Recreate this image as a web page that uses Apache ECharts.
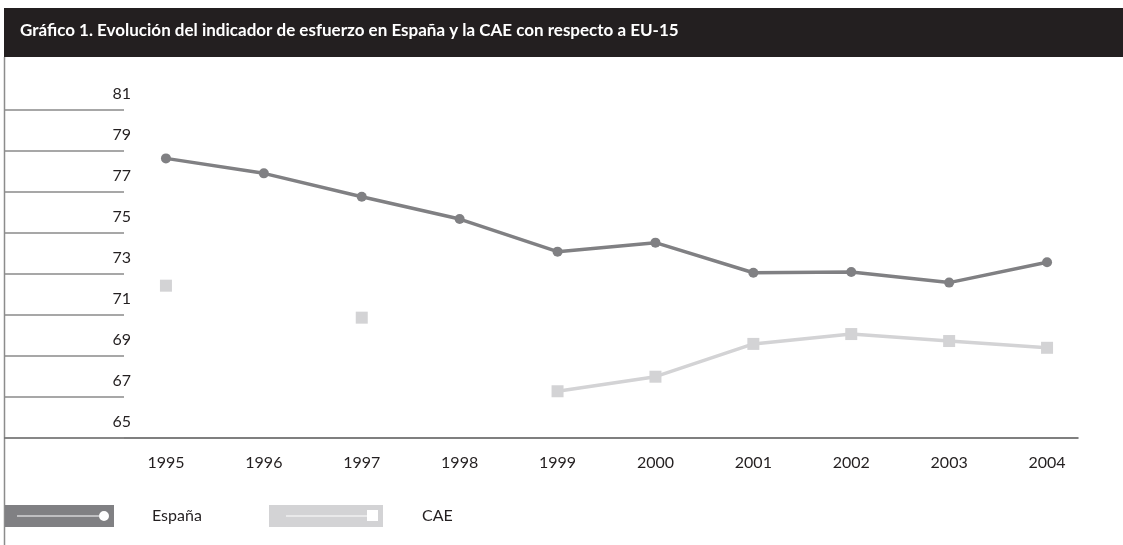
<!DOCTYPE html>
<html>
<head>
<meta charset="utf-8">
<script src="https://cdn.jsdelivr.net/npm/echarts@6/dist/echarts.min.js"></script>
<style>
html,body{margin:0;padding:0;background:#fff;}
#c{width:1123px;height:545px;}
</style>
</head>
<body>
<div id="c"></div>
<script>
var titleText = 'Gráfico 1. Evolución del indicador de esfuerzo en España y la CAE con respecto a EU-15';
var years = ['1995','1996','1997','1998','1999','2000','2001','2002','2003','2004'];
var espana = [78.64, 77.91, 76.77, 75.68, 74.09, 74.53, 73.06, 73.10, 72.58, 73.57];
var cae = [72.43, null, 70.87, null, 67.28, 67.99, 69.59, 70.07, 69.73, 69.40];
var yMin = 65, yMax = 81, yStep = 2;

var FONT = 'Lato';
var TXT = '#231f20';
var chart = echarts.init(document.getElementById('c'), null, {renderer: 'canvas'});
chart.setOption({
  animation: false,
  backgroundColor: '#ffffff',
  title: {
    text: titleText,
    left: 20, top: 22, padding: 0,
    textStyle: {color: '#ffffff', fontFamily: FONT, fontWeight: 'bold', fontSize: 17}
  },
  graphic: [
    {type: 'rect', z: -1, shape: {x: 4, y: 8, width: 1119, height: 49}, style: {fill: '#231f20'}},
    {type: 'line', shape: {x1: 4.5, y1: 57, x2: 4.5, y2: 545}, style: {stroke: '#8c8c8c', lineWidth: 1.5}}
  ],
  legend: [
    {
      data: ['España'], left: 5, top: 505, padding: 0,
      itemWidth: 109, itemHeight: 22,
      icon: 'path://M0 0H109V22H0Z M12 10.5V11.5H94V10.5Z M104 11A5 5 0 1 0 94 11A5 5 0 1 0 104 11Z',
      itemStyle: {color: '#808083', borderWidth: 0},
      textStyle: {color: TXT, fontFamily: FONT, fontSize: 16, padding: [0, 0, 0, 33]}
    },
    {
      data: ['CAE'], left: 269, top: 505, padding: 0,
      itemWidth: 114, itemHeight: 22,
      icon: 'path://M0 0H114V22H0Z M17 10.5V11.5H98V10.5Z M98 5V16H109V5Z',
      itemStyle: {color: '#d3d3d5', borderWidth: 0},
      textStyle: {color: TXT, fontFamily: FONT, fontSize: 16, padding: [0, 0, 0, 34]}
    }
  ],
  grid: [
    {left: 117, right: 27, top: 110, bottom: 107},
    {left: 5, right: 45, top: 110, bottom: 107}
  ],
  xAxis: [
    {
      type: 'category', gridIndex: 0, data: years, boundaryGap: true,
      axisLine: {show: false}, axisTick: {show: false},
      axisLabel: {color: TXT, fontFamily: FONT, fontSize: 16, margin: 17}
    },
    {
      type: 'value', gridIndex: 1, min: 0, max: 1,
      axisLine: {show: true, lineStyle: {color: '#555555', width: 1.5}},
      axisTick: {show: false}, axisLabel: {show: false}, splitLine: {show: false}
    }
  ],
  yAxis: [
    {type: 'value', gridIndex: 0, min: yMin, max: yMax, interval: yStep, show: false},
    {
      type: 'value', gridIndex: 1, min: yMin, max: yMax, interval: yStep,
      axisLine: {show: false},
      axisTick: {show: true, inside: true, length: 119, lineStyle: {color: '#8a8a8a', width: 1.5}},
      splitLine: {show: false},
      axisLabel: {
        inside: true, align: 'right', verticalAlign: 'bottom', margin: 126,
        lineHeight: 32,
        color: TXT, fontFamily: FONT, fontSize: 16
      }
    }
  ],
  series: [
    {
      name: 'España', type: 'line', xAxisIndex: 0, yAxisIndex: 0, data: espana,
      symbol: 'circle', symbolSize: 10, showAllSymbol: true,
      itemStyle: {color: '#808083'},
      lineStyle: {color: '#808083', width: 3.5},
      z: 3
    },
    {
      name: 'CAE', type: 'line', xAxisIndex: 0, yAxisIndex: 0, data: cae,
      symbol: 'rect', symbolSize: [12, 12], showAllSymbol: true, connectNulls: false,
      itemStyle: {color: '#d3d3d5'},
      lineStyle: {color: '#d3d3d5', width: 3.5},
      z: 2
    }
  ]
});
</script>
</body>
</html>
